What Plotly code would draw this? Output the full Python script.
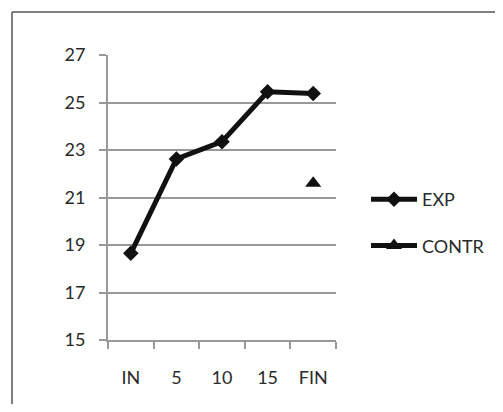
import plotly.graph_objects as go

categories = ["IN", "5", "10", "15", "FIN"]
exp_values = [18.65, 22.62, 23.35, 25.45, 25.38]
contr_values = [None, None, None, None, 21.6]
y_ticks = [15, 17, 19, 21, 23, 25, 27]

OFF = 8  # page body margin
W, H = 503 - 2 * OFF, 412 - 2 * OFF
L, R, T, B = 108 - OFF, 336 - OFF, 55 - OFF, 340 - OFF

bx = (12 - OFF - L) / (R - L)
by = (B - (12 - OFF)) / (B - T)

fig = go.Figure()
fig.add_trace(go.Scatter(
    x=categories, y=exp_values, name="EXP", mode="lines+markers", legendgroup="a",
    line=dict(color="#111111", width=5),
    marker=dict(symbol="diamond", size=12, color="#111111"),
))
fig.add_trace(go.Scatter(
    x=categories, y=contr_values, name="CONTR", mode="lines+markers", legendgroup="b",
    line=dict(color="#111111", width=5),
    marker=dict(symbol="triangle-up", size=14, color="#111111"),
))

fig.update_layout(
    width=W, height=H,
    margin=dict(l=L, r=W - R, t=T, b=H - B, pad=0, autoexpand=False),
    paper_bgcolor="white", plot_bgcolor="white",
    font=dict(family="Lato, Carlito, Open Sans, sans-serif", size=18, color="#2a2a2a"),
    showlegend=True,
    legend=dict(
        x=(366 - OFF - L) / (R - L), y=(B - (181 - OFF)) / (B - T), xanchor="left", yanchor="top",
        bgcolor="rgba(0,0,0,0)", font=dict(size=18, color="#2a2a2a"),
        itemwidth=46, tracegroupgap=20,
    ),
    shapes=[
        dict(type="line", xref="paper", yref="paper", x0=bx, x1=bx, y0=by, y1=(B - (H + 20)) / (B - T),
             line=dict(color="#555555", width=1.5), layer="below"),
        dict(type="line", xref="paper", yref="paper", x0=bx, x1=(W + 20 - L) / (R - L), y0=by, y1=by,
             line=dict(color="#555555", width=1.5), layer="below"),
    ],
)
fig.update_xaxes(
    type="category", range=[-0.5, 4.5],
    showgrid=False, showline=True, linecolor="#999999", linewidth=2,
    ticks="outside", tickson="boundaries", ticklen=7, tickcolor="#999999", tickwidth=2,
    ticklabelstandoff=20, tickfont=dict(size=18),
)
fig.update_yaxes(
    range=[15, 27], tickvals=y_ticks, ticktext=[str(v) for v in y_ticks],
    showgrid=True, gridcolor="#999999", gridwidth=2,
    showline=True, linecolor="#999999", linewidth=2,
    ticks="outside", ticklen=7, tickcolor="#999999", tickwidth=2,
    ticklabelstandoff=10, zeroline=False, tickfont=dict(size=18),
)

fig.write_html("out.html")
